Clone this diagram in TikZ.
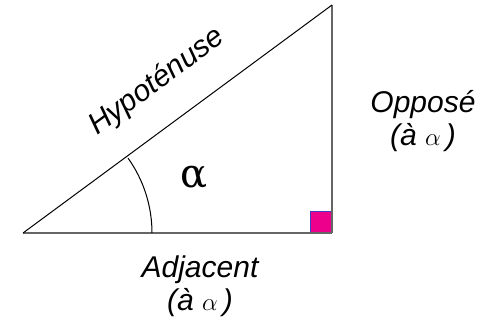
\documentclass[tikz,border=0pt]{standalone}
\usepackage{fontspec}
\usetikzlibrary{calc}
\setmainfont{Liberation Sans}
\newfontfamily\serifalpha{DejaVu Serif}
\begin{document}
\begin{tikzpicture}[x=1pt,y=-1pt,
  lbl/.style={font=\fontsize{30}{33}\selectfont\itshape, align=center, inner sep=0pt},
  side/.style={line width=1.6pt, draw=black!60},
  hyp/.style={line width=1pt, draw=black}]
\useasboundingbox (0,0) rectangle (487,328);
\coordinate (A) at (23,233);
\coordinate (B) at (332,233);
\coordinate (C) at (332,5);
\fill[fill=magenta, draw=blue!50!gray, line width=0.8pt] (310,211) rectangle (331.5,232.5);
\draw[side] (A) -- (B);
\draw[side] (B) -- (C);
\draw[hyp] (A) -- (C);
\draw[line width=1pt] ($(A)+(129,0)$) arc[start angle=0, end angle=-35.5, radius=129];
\node[inner sep=0pt, font=\serifalpha\fontsize{40}{44}\selectfont] (al) at (194,178) {α};
\node[lbl, rotate=36.4] (h) at (157,82) {Hypoténuse};
\node[lbl] (o) at (423,121) {Opposé\\(à $\alpha$\,)};
\node[lbl] (a) at (200,286) {Adjacent\\(à $\alpha$\,)};
\end{tikzpicture}
\end{document}
